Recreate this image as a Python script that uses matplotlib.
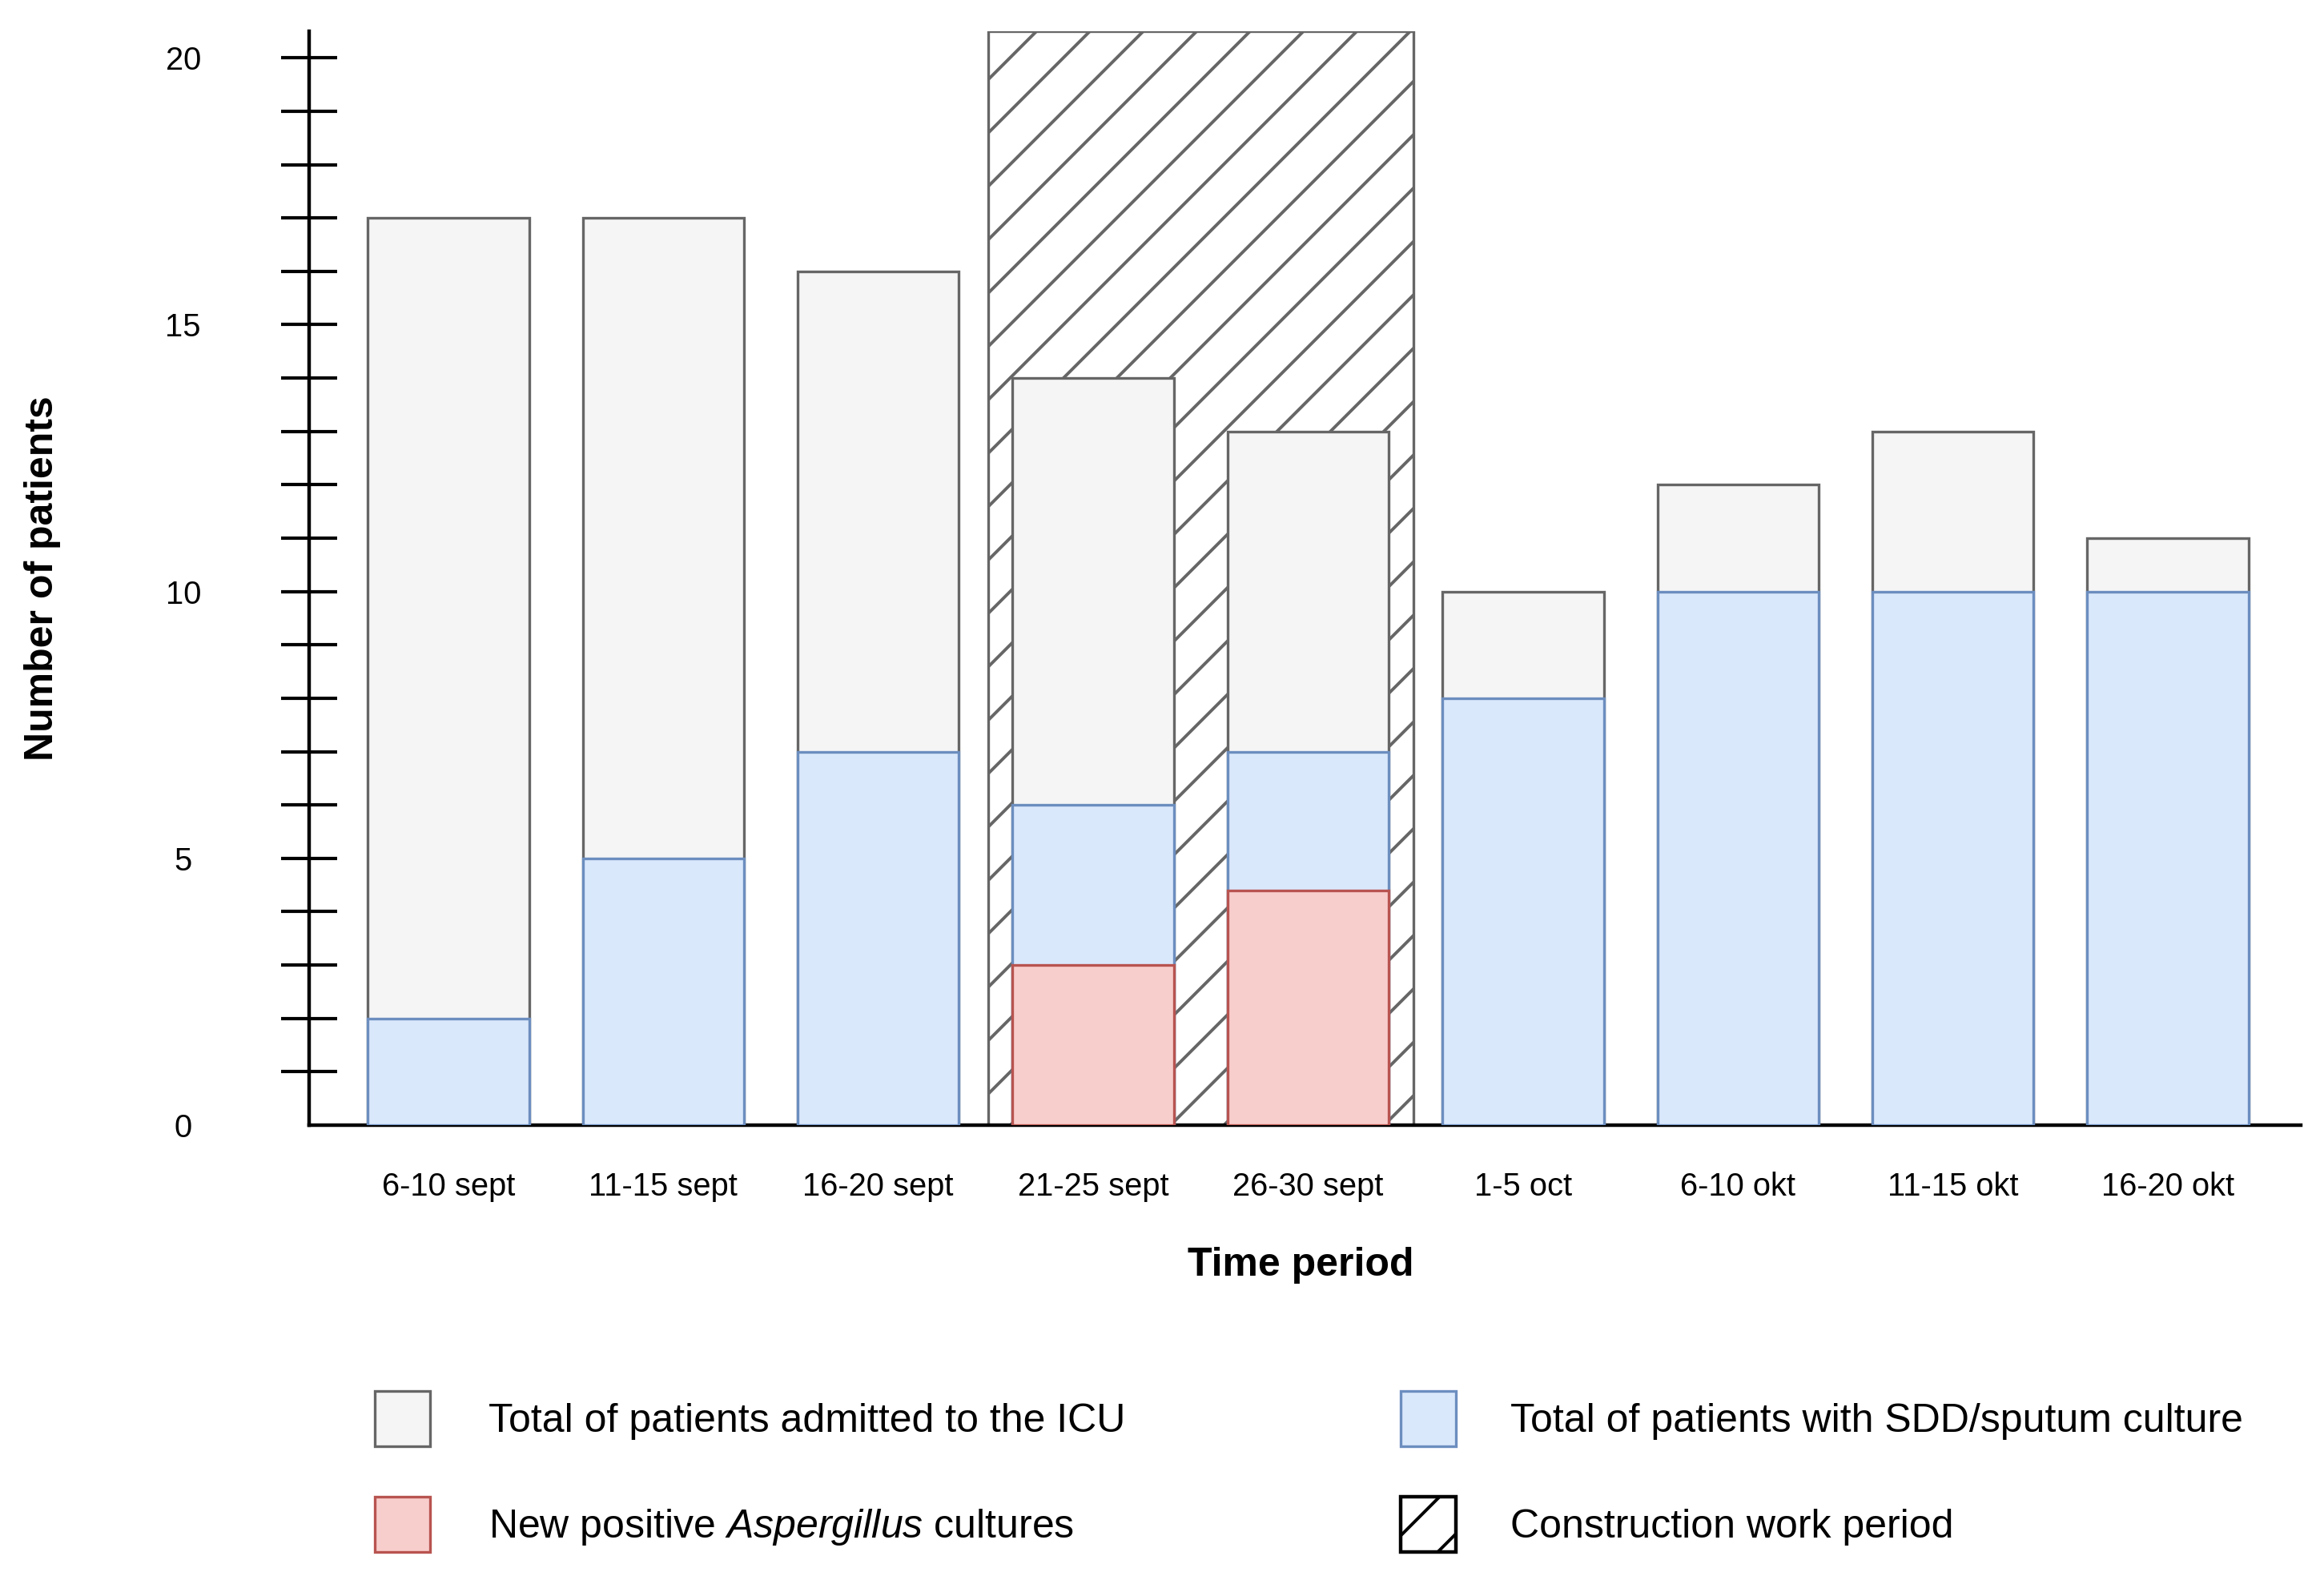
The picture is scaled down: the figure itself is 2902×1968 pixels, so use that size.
import numpy as np
import matplotlib.pyplot as plt
from matplotlib.patches import Patch, Rectangle
from matplotlib.ticker import FixedLocator

# data
periods = ["6-10 sept", "11-15 sept", "16-20 sept", "21-25 sept", "26-30 sept",
           "1-5 oct", "6-10 okt", "11-15 okt", "16-20 okt"]
icu_total = [17, 17, 16, 14, 13, 10, 12, 13, 11]
sdd_total = [2, 5, 7, 6, 7, 8, 10, 10, 10]
aspergillus = [0, 0, 0, 3, 4.4, 0, 0, 0, 0]
construction = ["21-25 sept", "26-30 sept"]

y_major = [0, 5, 10, 15, 20]
y_minor = list(range(1, 21))
y_top = 20.5

# draw.io style colours
GREY_FACE, GREY_EDGE = "#f5f5f5", "#666666"
BLUE_FACE, BLUE_EDGE = "#dae8fc", "#6c8ebf"
RED_FACE, RED_EDGE = "#f8cecc", "#b85450"

plt.rcParams["font.family"] = ["Liberation Sans", "DejaVu Sans"]
plt.rcParams["mathtext.fontset"] = "custom"
plt.rcParams["mathtext.rm"] = "Liberation Sans"
plt.rcParams["mathtext.it"] = "Liberation Sans:italic"
plt.rcParams["hatch.linewidth"] = 0.7


def main():
    x = np.arange(len(periods))
    width = 0.75
    lw = 0.6

    fig = plt.figure(figsize=(7.255, 4.92), dpi=400)
    ax = fig.add_axes([0.133, 0.2861, 0.857, 0.6941])

    # ---------- construction period (hatched block behind bars) ----------
    i0 = periods.index(construction[0])
    i1 = periods.index(construction[-1])
    ax.add_patch(Rectangle((i0 - 0.49, 0), (i1 - i0) + 0.98, y_top,
                           facecolor="white", edgecolor=GREY_EDGE,
                           hatch="//", lw=lw, zorder=1))

    # ---------- overlapping bars ----------
    ax.bar(x, icu_total, width, color=GREY_FACE, edgecolor=GREY_EDGE,
           lw=lw, zorder=3)
    ax.bar(x, sdd_total, width, color=BLUE_FACE, edgecolor=BLUE_EDGE,
           lw=lw, zorder=4)
    asp = np.array(aspergillus)
    mask = asp > 0
    ax.bar(x[mask], asp[mask], width, color=RED_FACE, edgecolor=RED_EDGE,
           lw=lw, zorder=5)

    # ---------- axes ----------
    ax.set_xlim(-0.648, len(periods) - 1 + 0.618)
    ax.set_ylim(0, y_top)
    for side in ("top", "right"):
        ax.spines[side].set_visible(False)
    for side in ("left", "bottom"):
        ax.spines[side].set_linewidth(0.8)
        ax.spines[side].set_color("black")

    ax.set_xticks(x)
    ax.set_xticklabels(periods, fontsize=7.2)
    ax.tick_params(axis="x", length=0, pad=10.5)

    ax.yaxis.remove_overlapping_locs = False
    ax.set_yticks(y_major)
    ax.yaxis.set_minor_locator(FixedLocator(y_minor))
    ax.tick_params(axis="y", which="major", length=0, pad=28.3, labelsize=7.2)
    ax.tick_params(axis="y", which="minor", direction="inout", length=12.6,
                   width=0.75, color="black")
    for lbl in ax.get_yticklabels():
        lbl.set_horizontalalignment("center")

    ax.set_xlabel("Time period", fontsize=9, fontweight="bold")
    ax.xaxis.label.set_va("baseline")
    ax.xaxis.set_label_coords(0.498, -0.1376)
    ax.set_ylabel("Number of patients", fontsize=9, fontweight="bold")
    ax.yaxis.label.set_va("baseline")
    ax.yaxis.set_label_coords(-0.1287, 0.5)

    # ---------- legend (two columns) ----------
    h_icu = Patch(facecolor=GREY_FACE, edgecolor=GREY_EDGE, lw=lw)
    h_sdd = Patch(facecolor=BLUE_FACE, edgecolor=BLUE_EDGE, lw=lw)
    h_asp = Patch(facecolor=RED_FACE, edgecolor=RED_EDGE, lw=lw)
    h_con = Patch(facecolor="white", edgecolor="black", hatch="//", lw=0.8)

    leg_kw = dict(loc="upper left", frameon=False, fontsize=9,
                  handlelength=1.38, handleheight=1.746, handletextpad=1.46,
                  labelspacing=1.26, borderpad=0, borderaxespad=0)
    fig.legend([h_icu, h_asp],
               ["Total of patients admitted to the ICU",
                "New positive $\\mathit{Aspergillus}$ cultures"],
               bbox_to_anchor=(0.1613, 0.1174), **leg_kw)
    fig.legend([h_sdd, h_con],
               ["Total of patients with SDD/sputum culture",
                "Construction work period"],
               bbox_to_anchor=(0.6027, 0.1174),
               **dict(leg_kw, handletextpad=1.36))

    fig.savefig("out.png", dpi=400)


if __name__ == "__main__":
    main()
